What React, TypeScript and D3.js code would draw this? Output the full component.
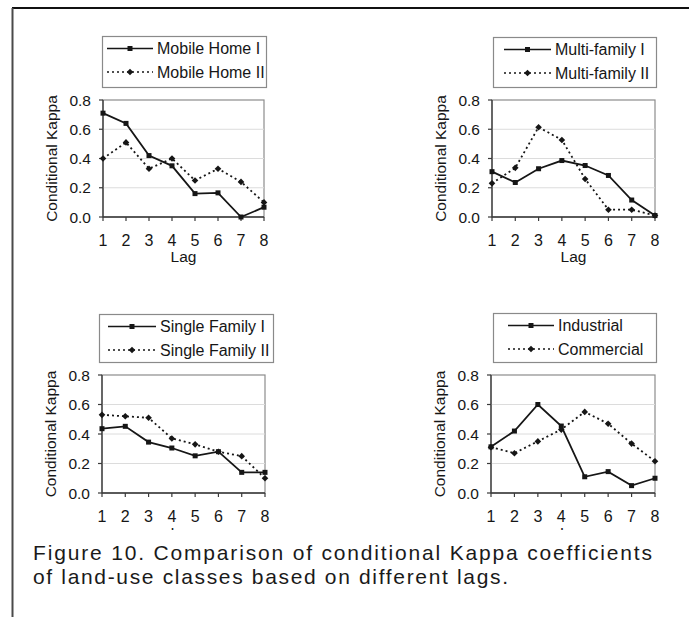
import React from 'react'
import * as d3 from 'd3'

// lag categories and y ticks shared by all four panels
const lags = [1, 2, 3, 4, 5, 6, 7, 8]
const yTicks = [0, 0.2, 0.4, 0.6, 0.8]
const yTitle = 'Conditional Kappa'
const xTitle = 'Lag'

const mobileHomeI = [0.71, 0.64, 0.42, 0.35, 0.16, 0.165, 0.0, 0.067]
const mobileHomeII = [0.4, 0.51, 0.33, 0.4, 0.25, 0.33, 0.24, 0.1]
const multiFamilyI = [0.31, 0.236, 0.33, 0.386, 0.352, 0.284, 0.116, 0.01]
const multiFamilyII = [0.23, 0.336, 0.614, 0.527, 0.26, 0.05, 0.05, 0.01]
const singleFamilyI = [0.436, 0.452, 0.345, 0.305, 0.252, 0.28, 0.14, 0.14]
const singleFamilyII = [0.53, 0.52, 0.51, 0.37, 0.33, 0.28, 0.25, 0.1]
const industrial = [0.313, 0.42, 0.6, 0.454, 0.11, 0.145, 0.05, 0.1]
const commercial = [0.31, 0.27, 0.35, 0.43, 0.55, 0.47, 0.335, 0.215]

const captionLines = [
  'Figure 10. Comparison of conditional Kappa coefficients',
  'of land-use classes based on different lags.'
]

interface Box { x: number; y: number; w: number; h: number }
interface PanelDef {
  names: [string, string]
  values: [number[], number[]]
  plot: Box
  legend: Box
  sampleX: number
  textX: number
}

const panels: PanelDef[] = [
  {
    names: ['Mobile Home I', 'Mobile Home II'],
    values: [mobileHomeI, mobileHomeII],
    plot: { x: 103, y: 100, w: 161, h: 117 },
    legend: { x: 102, y: 36, w: 164, h: 51 },
    sampleX: 107, textX: 157
  },
  {
    names: ['Multi-family I', 'Multi-family II'],
    values: [multiFamilyI, multiFamilyII],
    plot: { x: 492, y: 100, w: 163, h: 117 },
    legend: { x: 493, y: 37, w: 163, h: 50 },
    sampleX: 504, textX: 555
  },
  {
    names: ['Single Family I', 'Single Family II'],
    values: [singleFamilyI, singleFamilyII],
    plot: { x: 102, y: 375, w: 163, h: 118 },
    legend: { x: 99, y: 314, w: 174, h: 48 },
    sampleX: 108, textX: 160
  },
  {
    names: ['Industrial', 'Commercial'],
    values: [industrial, commercial],
    plot: { x: 491, y: 375, w: 164, h: 118 },
    legend: { x: 493, y: 313, w: 163, h: 49 },
    sampleX: 508, textX: 558
  }
]

const FONT = '"Liberation Sans", Arial, sans-serif'
const INK = '#161616'

const Marker: React.FC<{ kind: number; cx: number; cy: number }> = ({ kind, cx, cy }) => {
  if (kind === 0) {
    return <rect x={cx - 2.5} y={cy - 2.5} width={5} height={5} fill={INK} />
  }
  const r = 3.3
  return <path d={`M${cx},${cy - r}L${cx + r},${cy}L${cx},${cy + r}L${cx - r},${cy}Z`} fill={INK} />
}

const Panel: React.FC<{ p: PanelDef }> = ({ p }) => {
  const { plot, legend } = p
  const x = d3.scalePoint<number>().domain(lags).range([plot.x, plot.x + plot.w])
  const y = d3.scaleLinear().domain([0, 0.8]).range([plot.y + plot.h, plot.y])
  const line = d3.line<number>()
    .x((_, i) => x(lags[i]) as number)
    .y(d => y(d))
  const fmt = d3.format('.1f')
  const bottom = plot.y + plot.h

  return (
    <g>
      {/* legend */}
      <rect x={legend.x + 0.5} y={legend.y + 0.5} width={legend.w} height={legend.h}
        fill="#fff" stroke="#8a8a8a" strokeWidth={1.2} />
      {p.names.map((name, i) => {
        const cy = legend.y + 12.5 + i * 23.5
        return (
          <g key={name}>
            <line x1={p.sampleX} x2={p.textX - 4} y1={cy} y2={cy} stroke={INK}
              strokeWidth={1.7} strokeDasharray={i === 1 ? '2,3' : undefined} />
            <Marker kind={i} cx={(p.sampleX + p.textX - 4) / 2} cy={cy} />
            <text x={p.textX} y={cy} dy="0.36em" fontSize={16} fontFamily={FONT} fill={INK}>{name}</text>
          </g>
        )
      })}

      {/* plot frame and gridlines */}
      <rect x={plot.x} y={plot.y} width={plot.w} height={plot.h} fill="#fff" stroke="#8c8c8c" strokeWidth={1.2} />
      {yTicks.slice(1, -1).map(t => (
        <line key={t} x1={plot.x} x2={plot.x + plot.w} y1={y(t)} y2={y(t)} stroke="#dcdcdc" strokeWidth={1} />
      ))}

      {/* axes */}
      <line x1={plot.x} x2={plot.x} y1={plot.y} y2={bottom} stroke="#3a3a3a" strokeWidth={1.3} />
      <line x1={plot.x} x2={plot.x + plot.w} y1={bottom} y2={bottom} stroke="#3a3a3a" strokeWidth={1.3} />
      {yTicks.map(t => (
        <g key={t}>
          <line x1={plot.x - 4} x2={plot.x} y1={y(t)} y2={y(t)} stroke="#3a3a3a" strokeWidth={1.2} />
          <text x={plot.x - 12} y={y(t)} dy="0.36em" textAnchor="end" fontSize={15.5} fontFamily={FONT} fill={INK}>{fmt(t)}</text>
        </g>
      ))}
      {lags.map(l => (
        <g key={l}>
          <line x1={x(l)} x2={x(l)} y1={bottom} y2={bottom + 4} stroke="#3a3a3a" strokeWidth={1.2} />
          <text x={x(l)} y={bottom + 29} textAnchor="middle" fontSize={16} fontFamily={FONT} fill={INK}>{l}</text>
        </g>
      ))}
      <text x={plot.x + plot.w / 2} y={bottom + 45} textAnchor="middle" fontSize={15.5} fontFamily={FONT} fill={INK}>{xTitle}</text>
      <text transform={`translate(${plot.x - 52},${plot.y + plot.h / 2}) rotate(-90)`} dy="0.36em"
        textAnchor="middle" fontSize={15.5} fontFamily={FONT} fill={INK}>{yTitle}</text>

      {/* series */}
      {p.values.map((vals, i) => (
        <g key={i}>
          <path d={line(vals) || ''} fill="none" stroke={INK} strokeWidth={1.8}
            strokeDasharray={i === 1 ? '2,3' : undefined} />
          {vals.map((v, j) => <Marker key={j} kind={i} cx={x(lags[j]) as number} cy={y(v)} />)}
        </g>
      ))}
    </g>
  )
}

const App: React.FC = () => {
  const width = 689
  const height = 617
  return (
    <svg width={width} height={height} style={{ position: 'absolute', left: 0, top: 0, background: '#fff' }}>
      <rect width={width} height={height} fill="#fff" />
      {panels.map(p => <Panel key={p.names[0]} p={p} />)}

      {/* caption block hides the lower "Lag" titles */}
      <rect x={14} y={530} width={width - 14} height={height - 530} fill="#fff" />
      {captionLines.map((t, i) => (
        <text key={i} x={33} y={560 + i * 24} fontSize={21} fontFamily={FONT} fill="#1a1a1a"
          textLength={i === 0 ? 619 : 475} lengthAdjust="spacing">{t}</text>
      ))}

      {/* page frame */}
      <line x1={12} x2={width} y1={8} y2={8} stroke="#111" strokeWidth={2} />
      <line x1={12.5} x2={12.5} y1={8} y2={height} stroke="#4a4a4a" strokeWidth={2} />
    </svg>
  )
}

export default App
